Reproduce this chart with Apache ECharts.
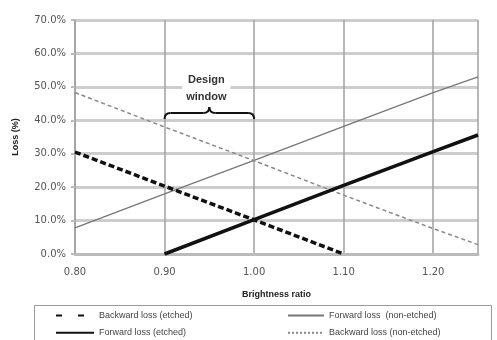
<!DOCTYPE html>
<html><head><meta charset="utf-8">
<script src="https://cdn.jsdelivr.net/npm/echarts@6/dist/echarts.min.js"></script>
<style>html,body{margin:0;padding:0;background:#fff}#c{width:497px;height:340px}</style>
</head><body><div id="c"></div>
<script>
const xTicks = [0.80, 0.90, 1.00, 1.10, 1.20];
const backEtchedX = [0.80, 0.90, 1.00, 1.10];
const backEtchedY = [30.5, 20.3, 10.2, 0];
const fwdEtchedX = [0.90, 1.00, 1.10, 1.20, 1.25];
const fwdEtchedY = [0, 10.3, 20.5, 30.6, 35.6];
const fwdNonX = [0.80, 0.90, 1.00, 1.10, 1.20, 1.25];
const fwdNonY = [7.8, 18.0, 28.0, 38.2, 48.3, 53.0];
const backNonX = [0.80, 0.90, 1.00, 1.10, 1.20, 1.25];
const backNonY = [48.3, 38.0, 27.9, 17.6, 7.6, 2.8];
const names = ['Backward loss (etched)', 'Forward loss (etched)', 'Forward loss  (non-etched)', 'Backward loss (non-etched)'];
const windowRange = [0.90, 1.00];

const pair = (xs, ys) => xs.map((x, i) => [x, ys[i]]);
const FONT = 'Liberation Sans';
const TICKFONT = 'DejaVu Sans';
const chart = echarts.init(document.getElementById('c'), null, {renderer: 'canvas'});
const legendText = {fontFamily: FONT, fontSize: 9, color: '#444'};
chart.setOption({
  animation: false,
  grid: {left: 75, right: 19, top: 20, bottom: 86},
  xAxis: {
    type: 'value', min: 0.8, max: 1.25, interval: 0.1,
    name: 'Brightness ratio', nameLocation: 'middle', nameGap: 36,
    nameTextStyle: {fontFamily: FONT, fontSize: 9, fontWeight: 'bold', color: '#222'},
    axisLine: {show: true, lineStyle: {color: '#bbb', width: 3}},
    axisTick: {show: false},
    axisLabel: {fontFamily: TICKFONT, fontSize: 10, color: '#555', margin: 13, showMaxLabel: false,
      formatter: v => v.toFixed(2)},
    splitLine: {show: true, lineStyle: {color: '#a0a0a0', width: 1.5}}
  },
  yAxis: {
    type: 'value', min: 0, max: 70, interval: 10,
    name: 'Loss (%)', nameLocation: 'middle', nameGap: 55, nameRotate: 90,
    nameTextStyle: {fontFamily: FONT, fontSize: 9, fontWeight: 'bold', color: '#222'},
    axisLine: {show: true, lineStyle: {color: '#a0a0a0', width: 1.5}},
    axisTick: {show: true, length: 4, lineStyle: {color: '#bbb', width: 2}},
    axisLabel: {fontFamily: TICKFONT, fontSize: 10, color: '#555', margin: 9,
      formatter: v => v.toFixed(1) + '%'},
    splitLine: {show: true, lineStyle: {color: '#cdcdcd', width: 3}}
  },
  legend: [
    {orient: 'vertical', left: 55, top: 310, padding: 0, itemWidth: 38, itemHeight: 14, itemGap: 6,
     data: [{name: names[0], lineStyle: {type: [6, 16]}}, names[1]],
     textStyle: legendText, itemStyle: {opacity: 0}},
    {orient: 'vertical', left: 287, top: 310, padding: 0, itemWidth: 36, itemHeight: 14, itemGap: 6,
     data: [names[2], {name: names[3], lineStyle: {type: [2, 2]}}],
     textStyle: legendText, itemStyle: {opacity: 0}}
  ],
  series: [
    {name: names[0], type: 'line', symbol: 'none', data: pair(backEtchedX, backEtchedY),
     lineStyle: {color: '#111', width: 3.5, type: [6, 3]}, itemStyle: {color: '#111'}, z: 5},
    {name: names[1], type: 'line', symbol: 'none', data: pair(fwdEtchedX, fwdEtchedY),
     lineStyle: {color: '#111', width: 3.5}, itemStyle: {color: '#111'}, z: 5},
    {name: names[2], type: 'line', symbol: 'none', data: pair(fwdNonX, fwdNonY),
     lineStyle: {color: '#777', width: 1.3}, itemStyle: {color: '#777'}, z: 4},
    {name: names[3], type: 'line', symbol: 'none', data: pair(backNonX, backNonY),
     lineStyle: {color: '#888', width: 1.5, type: [4, 3]}, itemStyle: {color: '#888'}, z: 4}
  ]
});

function drawAnno() {
  const p = v => chart.convertToPixel({gridIndex: 0}, v);
  const L = p([windowRange[0], 0])[0];
  const R = p([windowRange[1], 0])[0];
  const M = (L + R) / 2;
  const yBase = p([0, 40.4])[1];
  const yBar = yBase - 6;
  const yTip = yBar - 6;
  const st = {stroke: '#111', lineWidth: 2, fill: null};
  const bz = (x1, y1, cx, cy, x2, y2) => ({type: 'bezierCurve', z: 10,
    shape: {x1, y1, x2, y2, cpx1: cx, cpy1: cy}, style: st});
  const ln = (x1, y1, x2, y2) => ({type: 'line', z: 10, shape: {x1, y1, x2, y2}, style: st});
  const textY = p([0, 49.4])[1];
  chart.setOption({
    graphic: [
      bz(L, yBase, L, yBar, L + 6, yBar),
      ln(L + 6, yBar, M - 6, yBar),
      bz(M - 6, yBar, M, yBar, M, yTip),
      bz(M, yTip, M, yBar, M + 6, yBar),
      ln(M + 6, yBar, R - 6, yBar),
      bz(R - 6, yBar, R, yBar, R, yBase),
      {type: 'text', x: M - 3, y: textY, z: 10,
       style: {text: 'Design\nwindow', fontFamily: FONT, fontSize: 11, fontWeight: 'bold', fill: '#333',
         align: 'center', verticalAlign: 'middle', lineHeight: 17,
         backgroundColor: '#fff', padding: [0, 4]}},
      {type: 'rect', shape: {x: 34.5, y: 305.5, width: 457, height: 60},
       style: {fill: null, stroke: '#999', lineWidth: 1}, z: -1}
    ]
  });
}
drawAnno();
</script>
</body></html>
